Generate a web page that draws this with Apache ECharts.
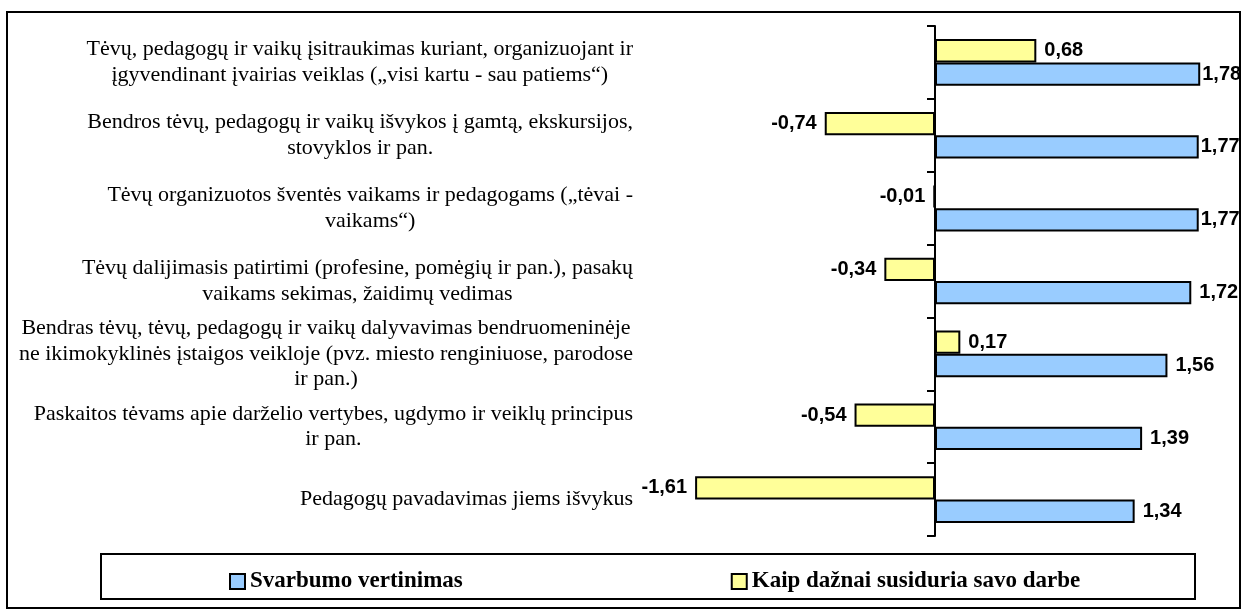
<!DOCTYPE html>
<html>
<head>
<meta charset="utf-8">
<script src="https://cdn.jsdelivr.net/npm/echarts@6/dist/echarts.min.js"></script>
<style>
html,body{margin:0;padding:0;background:#fff;}
#chart{width:1246px;height:611px;}
</style>
</head>
<body>
<div id="chart"></div>
<script>
// Categories, top to bottom; each is a list of label lines
const categories = [
  ["Tėvų, pedagogų ir vaikų įsitraukimas kuriant, organizuojant ir", "įgyvendinant įvairias veiklas („visi kartu - sau patiems“)"],
  ["Bendros tėvų, pedagogų ir vaikų išvykos į gamtą, ekskursijos,", "stovyklos ir pan."],
  ["Tėvų organizuotos šventės vaikams ir pedagogams („tėvai -", "vaikams“)"],
  ["Tėvų dalijimasis patirtimi (profesine, pomėgių ir pan.), pasakų", "vaikams sekimas, žaidimų vedimas"],
  ["Bendras tėvų, tėvų, pedagogų ir vaikų dalyvavimas bendruomeninėje", "ne ikimokyklinės įstaigos veikloje (pvz. miesto renginiuose, parodose", "ir pan.)"],
  ["Paskaitos tėvams apie darželio vertybes, ugdymo ir veiklų principus", "ir pan."],
  ["Pedagogų pavadavimas jiems išvykus"]
];
const svarbumo = [1.78, 1.77, 1.77, 1.72, 1.56, 1.39, 1.34];
const daznai = [0.68, -0.74, -0.01, -0.34, 0.17, -0.54, -1.61];
const seriesNames = ["Svarbumo vertinimas", "Kaip dažnai susiduria savo darbe"];

const catKeys = categories.map(c => c.join("\n"));
const fmtNum = v => v.toFixed(2).replace(".", ",");

function buildData(vals, nearEdge) {
  return vals.map(v => ({
    value: v,
    label: {
      position: v < 0 ? "left" : "right",
      distance: (nearEdge && v > 1.75) ? 2 : 8
    }
  }));
}

const chart = echarts.init(document.getElementById("chart"), null, {renderer: "canvas"});
const valueLabel = {
  show: true,
  formatter: p => fmtNum(p.value),
  fontFamily: "Liberation Sans, Arial, sans-serif",
  fontWeight: "bold",
  fontSize: 20,
  color: "#000"
};
chart.setOption({
  backgroundColor: "#fff",
  animation: false,
  graphic: [
    {type: "rect", shape: {x: 7, y: 12, width: 1233, height: 596},
     style: {fill: null, stroke: "#000", lineWidth: 2}, z: -1},
    {type: "rect", shape: {x: 101, y: 554, width: 1094, height: 45},
     style: {fill: "#fff", stroke: "#000", lineWidth: 2}, z: -1}
  ],
  grid: {left: 637, right: 13, top: 26, height: 510, containLabel: false},
  xAxis: {type: "value", min: -2, max: 2, show: false},
  yAxis: [
    {
      type: "category", data: catKeys, inverse: true, position: "left",
      axisLine: {show: false, onZero: false}, axisTick: {show: false},
      axisLabel: {
        margin: 4,
        align: "right",
        formatter: v => v.split("\n").map(s => "{c|" + s + "}").join("\n"),
        rich: {
          c: {align: "center", fontFamily: "Liberation Serif, Times New Roman, serif",
              fontSize: 22, lineHeight: 25.5, color: "#000"}
        }
      }
    },
    {
      type: "category", data: catKeys, inverse: true, position: "left",
      axisLine: {show: true, onZero: true, lineStyle: {color: "#000", width: 2}},
      axisTick: {show: true, length: 8, inside: false, lineStyle: {color: "#000", width: 2}},
      axisLabel: {show: false}
    }
  ],
  legend: {
    data: seriesNames,
    left: 224, top: 565,
    itemWidth: 15, itemHeight: 15, itemGap: 268,
    icon: "rect",
    textStyle: {fontFamily: "Liberation Serif, Times New Roman, serif", fontWeight: "bold", fontSize: 23, color: "#000"}
  },
  series: [
    {
      name: seriesNames[1], type: "bar", yAxisIndex: 0,
      data: buildData(daznai, false),
      barGap: "0%", barCategoryGap: "36%",
      itemStyle: {color: "#FFFF99", borderColor: "#000", borderWidth: 2},
      label: valueLabel
    },
    {
      name: seriesNames[0], type: "bar", yAxisIndex: 0,
      data: buildData(svarbumo, true),
      barGap: "0%", barCategoryGap: "36%",
      itemStyle: {color: "#99CCFF", borderColor: "#000", borderWidth: 2},
      label: valueLabel
    }
  ]
});
</script>
</body>
</html>
